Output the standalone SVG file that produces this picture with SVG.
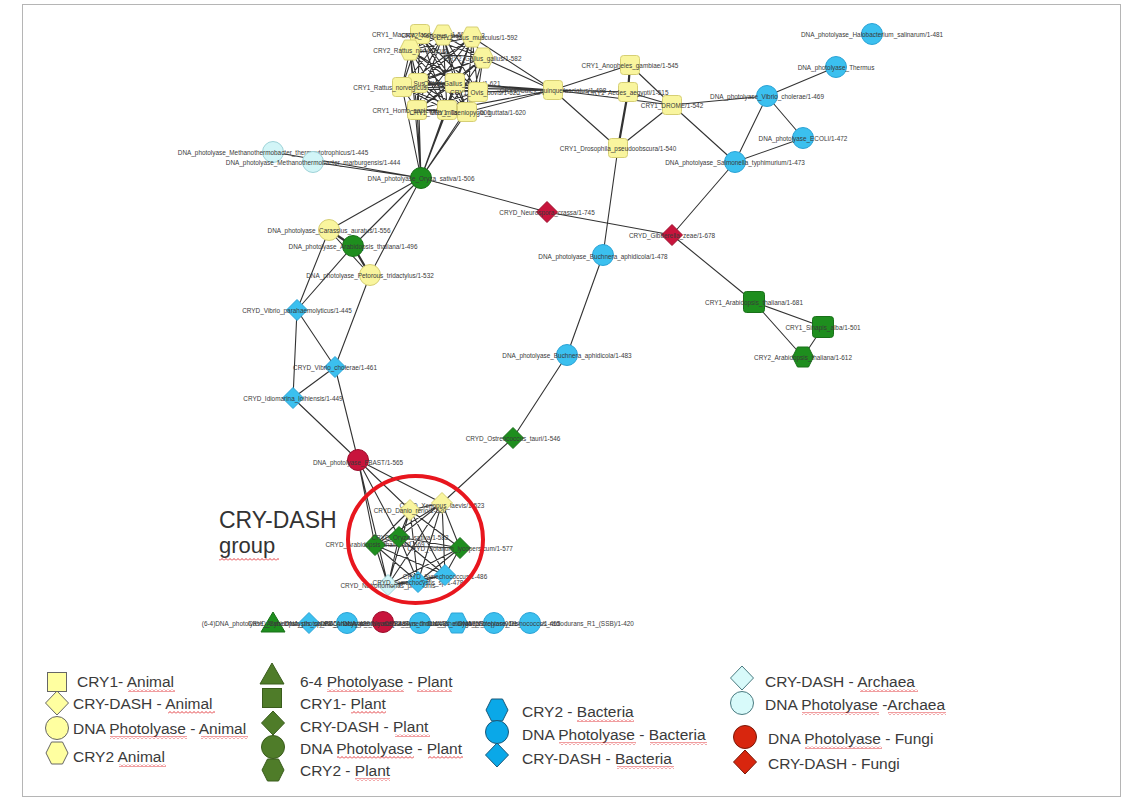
<svg xmlns="http://www.w3.org/2000/svg" xmlns:xlink="http://www.w3.org/1999/xlink" width="1131" height="803" viewBox="0 0 1131 803">
<style>
.e{stroke:#333;stroke-width:1.1;fill:none}
.et{stroke:#333;stroke-width:2.2;fill:none}
.lb{font-family:"Liberation Sans",Arial,sans-serif;font-size:6.4px;fill:#3a3a3a;text-anchor:middle;dominant-baseline:central}
.y{fill:#f9f59e;stroke:#d6cf74;stroke-width:1}
.g{fill:#1e8e1e;stroke:#197019;stroke-width:1}
.b{fill:#3bc0ef;stroke:#2ca3d6;stroke-width:1}
.c{fill:#d2f5f7;stroke:#9fd3d8;stroke-width:1}
.r{fill:#c8143c;stroke:#9c0e2c;stroke-width:1}
.ly{fill:#ffffa0;stroke:#666;stroke-width:1}
.lg{fill:#4f7c29;stroke:#3a5c1c;stroke-width:1}
.lbl{fill:#0aa8e8;stroke:#1c5878;stroke-width:1}
.lc{fill:#d8fafa;stroke:#4a7a80;stroke-width:1}
.lr{fill:#d8260e;stroke:#7a1808;stroke-width:1}
.lt{font-family:"Liberation Sans",Arial,sans-serif;font-size:15.5px;fill:#3a3a3a}
.wv{fill:url(#wavy)}
</style>
<defs>
<rect id="sq" x="-9.5" y="-9.5" width="19" height="19" rx="3"/>
<rect id="sqb" x="-10.5" y="-10.5" width="21" height="21" rx="3"/>
<polygon id="dm" points="0,-10.5 10.5,0 0,10.5 -10.5,0"/>
<circle id="ci" r="10.5"/>
<polygon id="hx" points="-10.5,0 -5.5,-10 5.5,-10 10.5,0 5.5,10 -5.5,10"/>
<polygon id="tr" points="0,-11 12,9 -12,9"/>
<rect id="lsq" x="-9.5" y="-9.5" width="19" height="19"/>
<polygon id="ldm" points="0,-12 11.5,0 0,12 -11.5,0"/>
<circle id="lci" r="11.5"/>
<polygon id="lhx" points="-11,0 -5.5,-11 5.5,-11 11,0 5.5,11 -5.5,11"/>
<polygon id="ltr" points="0,-12 12,9 -12,9"/>
<pattern id="wavy" width="4" height="3" patternUnits="userSpaceOnUse">
<path d="M0 2.5 L2 0.5 L4 2.5" fill="none" stroke="#e0282c" stroke-width="0.9"/>
</pattern>
</defs>
<rect x="0" y="0" width="1131" height="803" fill="#fff"/>
<rect x="22.5" y="4.5" width="1098" height="792" fill="none" stroke="#b5b5b5" stroke-width="1"/>

<g id="connectors">
<path class="e" d="M420 34L443 35M420 34L472 37M420 34L410 50M420 34L483 58M420 34L418 83M420 34L455 83M420 34L402 87M420 34L478 92M420 34L417 110M420 34L447 110M420 34L467 112
M443 35L472 37M443 35L410 50M443 35L483 58M443 35L418 83M443 35L455 83M443 35L402 87M443 35L478 92M443 35L417 110M443 35L447 110M443 35L467 112
M472 37L410 50M472 37L483 58M472 37L418 83M472 37L455 83M472 37L402 87M472 37L478 92M472 37L417 110M472 37L447 110M472 37L467 112
M410 50L483 58M410 50L418 83M410 50L455 83M410 50L402 87M410 50L478 92M410 50L417 110M410 50L447 110M410 50L467 112
M483 58L418 83M483 58L455 83M483 58L402 87M483 58L478 92M483 58L417 110M483 58L447 110M483 58L467 112
M418 83L455 83M418 83L402 87M418 83L478 92M418 83L417 110M418 83L447 110M418 83L467 112
M455 83L402 87M455 83L478 92M455 83L417 110M455 83L447 110M455 83L467 112
M402 87L478 92M402 87L417 110M402 87L447 110M402 87L467 112
M478 92L417 110M478 92L447 110M478 92L467 112
M417 110L447 110M417 110L467 112M447 110L467 112"/>
<path class="e" d="M421 178L410 50M421 178L418 83M421 178L455 83M421 178L402 87M421 178L478 92M421 178L417 110M421 178L447 110M421 178L467 112M421 178L472 37"/>
<path class="e" d="M553 90L472 37M553 90L483 58M553 90L455 83M553 90L478 92M553 90L447 110M553 90L467 112M553 90L418 83M553 90L402 87"/>
<path class="e" d="M553 90L630 65M553 90L628 92M553 90L672 105M553 90L618 148M630 65L672 105M628 92L672 105M672 105L618 148M672 105L767 96M672 105L735 162M618 148L603 255M603 255L567 355M567 355L513 438M513 438L442 503"/>
<path class="et" d="M630 65L628 92M628 92L618 148"/>
<path class="e" d="M767 96L836 67M767 96L803 138M767 96L735 162M803 138L735 162M735 162L672 235M547 212L672 235M672 235L754 302M754 302L823 327M754 302L803 357M823 327L803 357"/>
<path class="e" d="M421 178L273 152M421 178L313 162M421 178L547 212M421 178L329 230M421 178L353 246M421 178L370 275M329 230L370 275M329 230L297 310M353 246L297 310M370 275L335 367M297 310L335 367M297 310L293 398M335 367L293 398M335 367L358 460M293 398L358 460"/>
<path class="et" d="M329 230L353 246M353 246L370 275"/>
<path class="e" d="M358 460L410 510M358 460L442 503M358 460L375 545M358 460L399 537M358 460L388 585
M442 503L410 510M442 503L375 545M442 503L399 537M442 503L460 548M442 503L388 585M442 503L418 582M442 503L445 575
M410 510L375 545M410 510L399 537M410 510L460 548M410 510L388 585M410 510L418 582M410 510L445 575
M375 545L399 537M375 545L460 548M375 545L388 585M375 545L418 582M375 545L445 575
M399 537L460 548M399 537L388 585M399 537L418 582M399 537L445 575
M460 548L388 585M460 548L418 582M460 548L445 575
M388 585L418 582M388 585L445 575M418 582L445 575"/>
</g>

<g id="n_cry1_macaca"><use href="#sq" class="y" x="420" y="34"/><text class="lb" x="420" y="34">CRY1_Macaca_fascicularis/1-586</text></g>
<g id="n_cry2_xenopus"><use href="#hx" class="y" x="443" y="35"/><text class="lb" x="443" y="35">CRY2_Xenopus_laevis/1-583</text></g>
<g id="n_cry2_mus"><use href="#hx" class="y" x="472" y="37"/><text class="lb" x="477" y="37">CRY2_Mus_musculus/1-592</text></g>
<g id="n_cry2_rattus"><use href="#hx" class="y" x="410" y="50"/><text class="lb" x="410" y="50">CRY2_Rattus_norvegicus</text></g>
<g id="n_cry2_gallus"><use href="#hx" class="y" x="483" y="58"/><text class="lb" x="483" y="58">CRY2_Gallus_gallus/1-582</text></g>
<g id="n_cry1_sus"><use href="#sq" class="y" x="418" y="83"/><text class="lb" x="425" y="83">CRY1_Sus_scrofa_jus</text></g>
<g id="n_cry1_gallus"><use href="#sq" class="y" x="455" y="83"/><text class="lb" x="462" y="83">CRY1_Gallus_gallus/1-621</text></g>
<g id="n_cry1_rattus"><use href="#sq" class="y" x="402" y="87"/><text class="lb" x="390" y="87">CRY1_Rattus_norvegicus</text></g>
<g id="n_cry1_ovis"><use href="#sq" class="y" x="478" y="92"/><text class="lb" x="485" y="92">CRY1_Ovis_bovis/1-620</text></g>
<g id="n_cry1_homo"><use href="#sq" class="y" x="417" y="110"/><text class="lb" x="413" y="110">CRY1_Homo_sapiens/1-586</text></g>
<g id="n_cry1_mus"><use href="#sq" class="y" x="447" y="110"/><text class="lb" x="450" y="112">CRY1_Mus_musculus/1-606</text></g>
<g id="n_cry1_taeniopygia"><use href="#sq" class="y" x="467" y="112"/><text class="lb" x="478" y="112">CRY1_Taeniopygia_guttata/1-620</text></g>

<g id="n_cry1_culex"><use href="#sq" class="y" x="553" y="90"/><text class="lb" x="553" y="90">CRY1_Culex_quinquefasciatus/1-498</text></g>
<g id="n_cry1_anopheles"><use href="#sq" class="y" x="630" y="65"/><text class="lb" x="630" y="65">CRY1_Anopheles_gambiae/1-545</text></g>
<g id="n_cry1_aedes"><use href="#sq" class="y" x="628" y="92"/><text class="lb" x="628" y="92">CRY1_Aedes_aegypti/1-515</text></g>
<g id="n_cry1_drome"><use href="#sq" class="y" x="672" y="105"/><text class="lb" x="672" y="105">CRY1_DROME/1-542</text></g>
<g id="n_cry1_drosophila"><use href="#sq" class="y" x="618" y="148"/><text class="lb" x="618" y="148">CRY1_Drosophila_pseudoobscura/1-540</text></g>

<g id="n_halobacterium"><use href="#ci" class="b" x="872" y="34"/><text class="lb" x="872" y="34">DNA_photolyase_Halobacterium_salinarum/1-481</text></g>
<g id="n_thermus"><use href="#ci" class="b" x="836" y="67"/><text class="lb" x="836" y="67">DNA_photolyase_Thermus</text></g>
<g id="n_vibrio_phot"><use href="#ci" class="b" x="767" y="96"/><text class="lb" x="767" y="96">DNA_photolyase_Vibrio_cholerae/1-469</text></g>
<g id="n_ecoli"><use href="#ci" class="b" x="803" y="138"/><text class="lb" x="803" y="138">DNA_photolyase_ECOLI/1-472</text></g>
<g id="n_salmonella"><use href="#ci" class="b" x="735" y="162"/><text class="lb" x="735" y="162">DNA_photolyase_Salmonella_typhimurium/1-473</text></g>

<g id="n_meth_thermo"><use href="#ci" class="c" x="273" y="152"/><text class="lb" x="273" y="152">DNA_photolyase_Methanothermobacter_thermautotrophicus/1-445</text></g>
<g id="n_meth_marburg"><use href="#ci" class="c" x="313" y="162"/><text class="lb" x="313" y="162">DNA_photolyase_Methanothermobacter_marburgensis/1-444</text></g>
<g id="n_oryza"><use href="#ci" class="g" x="421" y="178"/><text class="lb" x="421" y="178">DNA_photolyase_Oryza_sativa/1-506</text></g>
<g id="n_carassius"><use href="#ci" class="y" x="329" y="230"/><text class="lb" x="329" y="230">DNA_photolyase_Carassius_auratus/1-556</text></g>
<g id="n_arab_phot"><use href="#ci" class="g" x="353" y="246"/><text class="lb" x="353" y="246">DNA_photolyase_Arabidopsis_thaliana/1-496</text></g>
<g id="n_petorous"><use href="#ci" class="y" x="370" y="275"/><text class="lb" x="370" y="275">DNA_photolyase_Petorous_tridactylus/1-532</text></g>

<g id="n_neurospora"><use href="#dm" class="r" x="547" y="212"/><text class="lb" x="547" y="212">CRYD_Neurospora_crassa/1-745</text></g>
<g id="n_gibberella"><use href="#dm" class="r" x="672" y="235"/><text class="lb" x="672" y="235">CRYD_Gibberella_zeae/1-678</text></g>
<g id="n_buchnera478"><use href="#ci" class="b" x="603" y="255"/><text class="lb" x="603" y="256">DNA_photolyase_Buchnera_aphidicola/1-478</text></g>
<g id="n_buchnera483"><use href="#ci" class="b" x="567" y="355"/><text class="lb" x="567" y="355">DNA_photolyase_Buchnera_aphidicola/1-483</text></g>
<g id="n_ostreococcus"><use href="#dm" class="g" x="513" y="438"/><text class="lb" x="513" y="438">CRYD_Ostreococcus_tauri/1-546</text></g>

<g id="n_cry1_arab"><use href="#sqb" class="g" x="754" y="302"/><text class="lb" x="754" y="302">CRY1_Arabidopsis_thaliana/1-681</text></g>
<g id="n_cry1_sinapis"><use href="#sqb" class="g" x="823" y="327"/><text class="lb" x="823" y="327">CRY1_Sinapis_alba/1-501</text></g>
<g id="n_cry2_arab"><use href="#hx" class="g" x="803" y="357"/><text class="lb" x="803" y="357">CRY2_Arabidopsis_thaliana/1-612</text></g>

<g id="n_vibrio_para"><use href="#dm" class="b" x="297" y="310"/><text class="lb" x="297" y="310">CRYD_Vibrio_parahaemolyticus/1-445</text></g>
<g id="n_vibrio_chol"><use href="#dm" class="b" x="335" y="367"/><text class="lb" x="335" y="367">CRYD_Vibrio_cholerae/1-461</text></g>
<g id="n_idiomarina"><use href="#dm" class="b" x="293" y="398"/><text class="lb" x="293" y="398">CRYD_Idiomarina_loihiensis/1-449</text></g>
<g id="n_fbast"><use href="#ci" class="r" x="358" y="460"/><text class="lb" x="358" y="462">DNA_photolyase_FBAST/1-565</text></g>

<g id="n_xenopus"><use href="#dm" class="y" x="442" y="503"/><text class="lb" x="442" y="505">CRYD_Xenopus_laevis/1-523</text></g>
<g id="n_danio"><use href="#dm" class="y" x="410" y="510"/><text class="lb" x="410" y="510">CRYD_Danio_rerio/1-520</text></g>
<g id="n_cryd_arab"><use href="#dm" class="g" x="375" y="545"/><text class="lb" x="375" y="544">CRYD_Arabidopsis_thaliana/1-569</text></g>
<g id="n_cryd_oryza"><use href="#dm" class="g" x="399" y="537"/><text class="lb" x="410" y="537">CRYD_Oryza_sativa/1-582</text></g>
<g id="n_cryd_solanum"><use href="#dm" class="g" x="460" y="548"/><text class="lb" x="460" y="548">CRYD_Solanum_lycopersicum/1-577</text></g>
<g id="n_cryd_natronomonas"><use href="#dm" class="c" x="388" y="585"/><text class="lb" x="388" y="585">CRYD_Natronomonas_pharaonis</text></g>
<g id="n_cryd_synechocystis"><use href="#dm" class="b" x="418" y="582"/><text class="lb" x="418" y="582">CRYD_Synechocystis_sp/1-478</text></g>
<g id="n_cryd_synechococcus"><use href="#dm" class="b" x="445" y="575"/><text class="lb" x="445" y="576">CRYD_Synechococcus/1-486</text></g>

<g id="n_64_arab"><use href="#tr" class="g" x="273" y="623"/><text class="lb" x="273" y="623">(6-4)DNA_photolyase_Arabidopsis_thaliana/1-556</text></g>
<g id="n_cryd_synpcc"><use href="#dm" class="b" x="309" y="623"/><text class="lb" x="309" y="623">CRYD_Synechocystis_sp_PCC6803/1-489</text></g>
<g id="n_anacystis"><use href="#ci" class="b" x="347" y="623"/><text class="lb" x="347" y="623">DNA_photolyase_Anacystis_nidulans/1-484</text></g>
<g id="n_neurospora_phot"><use href="#ci" class="r" x="383" y="622"/><text class="lb" x="383" y="623">DNA_photolyase_Neurospora_crassa/1-643</text></g>
<g id="n_bacillus"><use href="#ci" class="b" x="420" y="623"/><text class="lb" x="420" y="623">DNA_photolyase_Bacillus_firmus_ATCC_14575/1-476</text></g>
<g id="n_cry2_synechococcus"><use href="#hx" class="b" x="457" y="623"/><text class="lb" x="457" y="623">CRY2_Synechococcus_elongatus_PCC6301/1-502</text></g>
<g id="n_streptomyces"><use href="#ci" class="b" x="494" y="623"/><text class="lb" x="494" y="623">DNA_photolyase_Streptomyces_griseus/1-455</text></g>
<g id="n_deinococcus"><use href="#ci" class="b" x="530" y="623"/><text class="lb" x="546" y="623">DNA_photolyase_Deinococcus_radiodurans_R1_(SSB)/1-420</text></g>

<g id="crydash_group">
<ellipse cx="415.5" cy="539.5" rx="67.5" ry="63.5" fill="none" stroke="#e8161e" stroke-width="4"/>
<text x="219" y="528" font-family="Liberation Sans, Arial, sans-serif" font-size="23" fill="#333">CRY-DASH</text>
<text x="219" y="553" font-family="Liberation Sans, Arial, sans-serif" font-size="22" fill="#333">group</text>
<rect class="wv" x="219" y="558" width="60" height="3"/>
</g>

<g id="legend">
<use href="#lsq" class="ly" x="57" y="682"/>
<text class="lt" x="77" y="687">CRY1- Animal</text>
<use href="#ldm" class="ly" x="57" y="703"/>
<text class="lt" x="73" y="709">CRY-DASH - Animal</text>
<use href="#lci" class="ly" x="57" y="728"/>
<text class="lt" x="73" y="734">DNA Photolyase - Animal</text>
<use href="#lhx" class="ly" x="57" y="753"/>
<text class="lt" x="73" y="762">CRY2 Animal</text>

<use href="#ltr" class="lg" x="272" y="675"/>
<text class="lt" x="300" y="687">6-4 Photolyase - Plant</text>
<use href="#lsq" class="lg" x="272" y="698"/>
<text class="lt" x="300" y="709">CRY1- Plant</text>
<use href="#ldm" class="lg" x="273" y="723"/>
<text class="lt" x="300" y="732">CRY-DASH - Plant</text>
<use href="#lci" class="lg" x="273" y="747"/>
<text class="lt" x="300" y="754">DNA Photolyase - Plant</text>
<use href="#lhx" class="lg" x="273" y="770"/>
<text class="lt" x="300" y="776">CRY2 - Plant</text>

<use href="#lhx" class="lbl" x="497" y="710"/>
<text class="lt" x="522" y="717">CRY2 - Bacteria</text>
<use href="#lci" class="lbl" x="497" y="732"/>
<text class="lt" x="522" y="740">DNA Photolyase - Bacteria</text>
<use href="#ldm" class="lbl" x="497" y="755"/>
<text class="lt" x="522" y="764">CRY-DASH - Bacteria</text>

<use href="#ldm" class="lc" x="742" y="678"/>
<text class="lt" x="765" y="687">CRY-DASH - Archaea</text>
<use href="#lci" class="lc" x="742" y="703"/>
<text class="lt" x="765" y="710">DNA Photolyase -Archaea</text>
<use href="#lci" class="lr" x="745" y="737"/>
<text class="lt" x="768" y="744">DNA Photolyase - Fungi</text>
<use href="#ldm" class="lr" x="745" y="762"/>
<text class="lt" x="768" y="769">CRY-DASH - Fungi</text>

<rect class="wv" x="128" y="689" width="47" height="3"/>
<rect class="wv" x="168" y="711" width="47" height="3"/>
<rect class="wv" x="110" y="736" width="77" height="3"/>
<rect class="wv" x="201" y="736" width="47" height="3"/>
<rect class="wv" x="119" y="764" width="47" height="3"/>
<rect class="wv" x="327" y="689" width="77" height="3"/>
<rect class="wv" x="417" y="689" width="35" height="3"/>
<rect class="wv" x="351" y="711" width="35" height="3"/>
<rect class="wv" x="395" y="734" width="35" height="3"/>
<rect class="wv" x="337" y="756" width="77" height="3"/>
<rect class="wv" x="428" y="756" width="35" height="3"/>
<rect class="wv" x="355" y="778" width="35" height="3"/>
<rect class="wv" x="577" y="719" width="57" height="3"/>
<rect class="wv" x="559" y="742" width="77" height="3"/>
<rect class="wv" x="650" y="742" width="57" height="3"/>
<rect class="wv" x="617" y="766" width="57" height="3"/>
<rect class="wv" x="860" y="689" width="58" height="3"/>
<rect class="wv" x="802" y="712" width="77" height="3"/>
<rect class="wv" x="888" y="712" width="58" height="3"/>
<rect class="wv" x="805" y="746" width="77" height="3"/>
</g>
</svg>
